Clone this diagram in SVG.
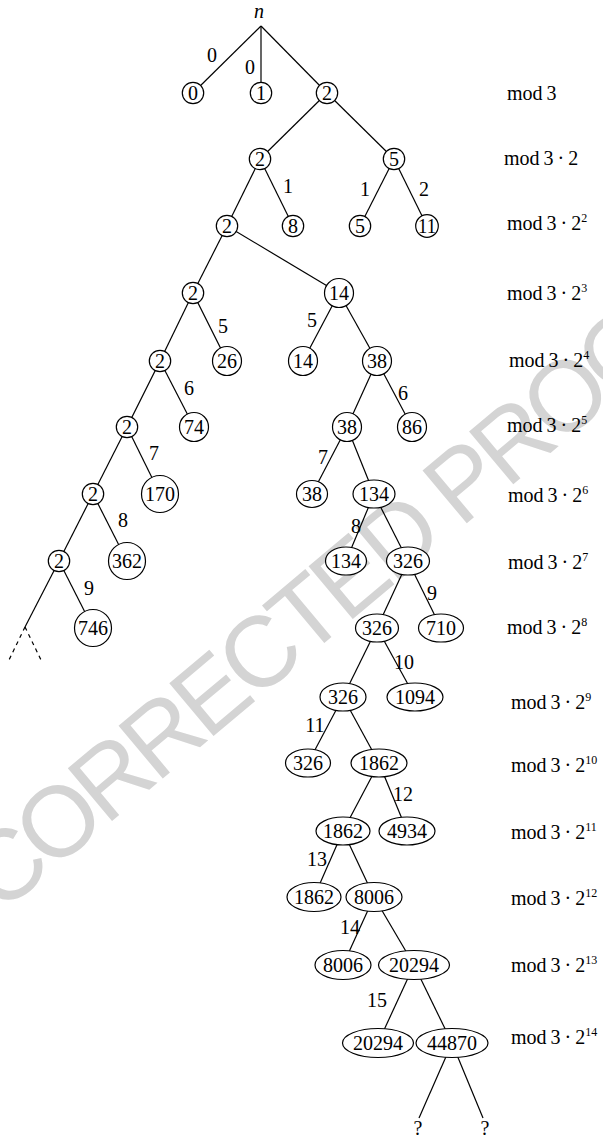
<svg xmlns="http://www.w3.org/2000/svg" width="603" height="1147" viewBox="0 0 603 1147">
<style>
.e{stroke:#000;stroke-width:1.2;fill:none}
.d{stroke-dasharray:4 4}
.nd{fill:#fff;stroke:#000;stroke-width:1.2}
.t{font-size:20px;text-anchor:middle;fill:#000}
.m{font-size:20px;fill:#000}
.s{font-size:12px}
.wm{font-size:100px;letter-spacing:-6px;fill:#d4d4d4}
</style>
<rect width="603" height="1147" fill="#fff"/>
<g id="watermark" font-family="'Liberation Sans', Arial, sans-serif"><text class="wm" transform="translate(0,915) rotate(-40)">CORRECTED PROOF</text></g>
<g id="connectors">
<line class="e" x1="261" y1="26" x2="193" y2="93"/>
<line class="e" x1="261" y1="26" x2="261" y2="93"/>
<line class="e" x1="261" y1="26" x2="327" y2="93"/>
<line class="e" x1="327" y1="93" x2="260" y2="159"/>
<line class="e" x1="327" y1="93" x2="394" y2="159"/>
<line class="e" x1="260" y1="159" x2="227" y2="226"/>
<line class="e" x1="260" y1="159" x2="293" y2="226"/>
<line class="e" x1="394" y1="159" x2="360" y2="226"/>
<line class="e" x1="394" y1="159" x2="427" y2="226"/>
<line class="e" x1="227" y1="226" x2="193" y2="293"/>
<line class="e" x1="227" y1="226" x2="339" y2="293"/>
<line class="e" x1="193" y1="293" x2="160" y2="361"/>
<line class="e" x1="193" y1="293" x2="227" y2="361"/>
<line class="e" x1="339" y1="293" x2="303" y2="361"/>
<line class="e" x1="339" y1="293" x2="377" y2="361"/>
<line class="e" x1="160" y1="361" x2="127" y2="427"/>
<line class="e" x1="160" y1="361" x2="194" y2="427"/>
<line class="e" x1="377" y1="361" x2="347" y2="427"/>
<line class="e" x1="377" y1="361" x2="412" y2="427"/>
<line class="e" x1="127" y1="427" x2="93" y2="494"/>
<line class="e" x1="127" y1="427" x2="160" y2="494"/>
<line class="e" x1="347" y1="427" x2="312" y2="494"/>
<line class="e" x1="347" y1="427" x2="374" y2="494"/>
<line class="e" x1="93" y1="494" x2="59" y2="561"/>
<line class="e" x1="93" y1="494" x2="127" y2="561"/>
<line class="e" x1="374" y1="494" x2="346" y2="561"/>
<line class="e" x1="374" y1="494" x2="408" y2="561"/>
<line class="e" x1="59" y1="561" x2="25" y2="627"/>
<line class="e" x1="59" y1="561" x2="93" y2="628"/>
<line class="e d" x1="25" y1="627" x2="8" y2="662"/>
<line class="e d" x1="25" y1="627" x2="42" y2="662"/>
<line class="e" x1="408" y1="561" x2="377" y2="628"/>
<line class="e" x1="408" y1="561" x2="441" y2="628"/>
<line class="e" x1="377" y1="628" x2="343" y2="697"/>
<line class="e" x1="377" y1="628" x2="415" y2="697"/>
<line class="e" x1="343" y1="697" x2="308" y2="763"/>
<line class="e" x1="343" y1="697" x2="379" y2="763"/>
<line class="e" x1="379" y1="763" x2="343" y2="831"/>
<line class="e" x1="379" y1="763" x2="407" y2="831"/>
<line class="e" x1="343" y1="831" x2="314" y2="897"/>
<line class="e" x1="343" y1="831" x2="374" y2="897"/>
<line class="e" x1="374" y1="897" x2="343" y2="965"/>
<line class="e" x1="374" y1="897" x2="414" y2="965"/>
<line class="e" x1="414" y1="965" x2="378" y2="1043"/>
<line class="e" x1="414" y1="965" x2="452" y2="1043"/>
<line class="e" x1="452" y1="1043" x2="419" y2="1118"/>
<line class="e" x1="452" y1="1043" x2="483" y2="1118"/>
</g>
<g id="edge-labels" font-family="'Liberation Serif', 'Times New Roman', serif">
<text class="t" x="212" y="62">0</text>
<text class="t" x="250" y="74">0</text>
<text class="t" x="288" y="193">1</text>
<text class="t" x="365" y="196">1</text>
<text class="t" x="424" y="196">2</text>
<text class="t" x="223" y="333">5</text>
<text class="t" x="312" y="327">5</text>
<text class="t" x="189" y="395">6</text>
<text class="t" x="403" y="400">6</text>
<text class="t" x="154" y="460">7</text>
<text class="t" x="323" y="464">7</text>
<text class="t" x="123" y="527">8</text>
<text class="t" x="356" y="533">8</text>
<text class="t" x="89" y="595">9</text>
<text class="t" x="432" y="600">9</text>
<text class="t" x="404" y="669">10</text>
<text class="t" x="315" y="732">11</text>
<text class="t" x="403" y="801">12</text>
<text class="t" x="317" y="866">13</text>
<text class="t" x="350" y="934">14</text>
<text class="t" x="377" y="1007">15</text>
<text class="t" x="418" y="1135">?</text>
<text class="t" x="485" y="1135">?</text>
</g>
<g id="nodes" font-family="'Liberation Serif', 'Times New Roman', serif">
<g id="root"><text class="t" x="259" y="18" font-style="italic">n</text></g>
<g id="l0a"><circle class="nd" cx="193" cy="93" r="10.7"/><text class="t" x="193" y="100">0</text></g>
<g id="l0b"><circle class="nd" cx="261" cy="93" r="10.7"/><text class="t" x="261" y="100">1</text></g>
<g id="l0c"><circle class="nd" cx="327" cy="93" r="10.7"/><text class="t" x="327" y="100">2</text></g>
<g id="l1a"><circle class="nd" cx="260" cy="159" r="10.7"/><text class="t" x="260" y="166">2</text></g>
<g id="l1b"><circle class="nd" cx="394" cy="159" r="10.7"/><text class="t" x="394" y="166">5</text></g>
<g id="l2a"><circle class="nd" cx="227" cy="226" r="10.7"/><text class="t" x="227" y="233">2</text></g>
<g id="l2b"><circle class="nd" cx="293" cy="226" r="10.7"/><text class="t" x="293" y="233">8</text></g>
<g id="l2c"><circle class="nd" cx="360" cy="226" r="10.7"/><text class="t" x="360" y="233">5</text></g>
<g id="l2d"><circle class="nd" cx="427" cy="226" r="11.3"/><text class="t" x="427" y="233" textLength="18" lengthAdjust="spacingAndGlyphs">11</text></g>
<g id="l3a"><circle class="nd" cx="193" cy="293" r="10.7"/><text class="t" x="193" y="300">2</text></g>
<g id="l3b"><circle class="nd" cx="339" cy="293" r="14.5"/><text class="t" x="339" y="300">14</text></g>
<g id="l4a"><circle class="nd" cx="160" cy="361" r="10.7"/><text class="t" x="160" y="368">2</text></g>
<g id="l4b"><circle class="nd" cx="227" cy="361" r="14.5"/><text class="t" x="227" y="368">26</text></g>
<g id="l4c"><circle class="nd" cx="303" cy="361" r="14.5"/><text class="t" x="303" y="368">14</text></g>
<g id="l4d"><circle class="nd" cx="377" cy="361" r="14.5"/><text class="t" x="377" y="368">38</text></g>
<g id="l5a"><circle class="nd" cx="127" cy="427" r="10.7"/><text class="t" x="127" y="434">2</text></g>
<g id="l5b"><circle class="nd" cx="194" cy="427" r="14.5"/><text class="t" x="194" y="434">74</text></g>
<g id="l5c"><circle class="nd" cx="347" cy="427" r="14.5"/><text class="t" x="347" y="434">38</text></g>
<g id="l5d"><circle class="nd" cx="412" cy="427" r="14.5"/><text class="t" x="412" y="434">86</text></g>
<g id="l6a"><circle class="nd" cx="93" cy="494" r="10.7"/><text class="t" x="93" y="501">2</text></g>
<g id="l6b"><circle class="nd" cx="160" cy="494" r="18.5"/><text class="t" x="160" y="501">170</text></g>
<g id="l6c"><ellipse class="nd" cx="312" cy="494" rx="15.5" ry="13.5"/><text class="t" x="312" y="501">38</text></g>
<g id="l6d"><ellipse class="nd" cx="374" cy="494" rx="21" ry="14"/><text class="t" x="374" y="501">134</text></g>
<g id="l7a"><circle class="nd" cx="59" cy="561" r="10.7"/><text class="t" x="59" y="568">2</text></g>
<g id="l7b"><circle class="nd" cx="127" cy="561" r="18.5"/><text class="t" x="127" y="568">362</text></g>
<g id="l7c"><ellipse class="nd" cx="346" cy="561" rx="20.5" ry="14"/><text class="t" x="346" y="568">134</text></g>
<g id="l7d"><ellipse class="nd" cx="408" cy="561" rx="21.5" ry="14"/><text class="t" x="408" y="568">326</text></g>
<g id="l8a"><circle class="nd" cx="93" cy="628" r="18.5"/><text class="t" x="93" y="635">746</text></g>
<g id="l8b"><ellipse class="nd" cx="377" cy="628" rx="21.5" ry="14"/><text class="t" x="377" y="635">326</text></g>
<g id="l8c"><ellipse class="nd" cx="441" cy="628" rx="22.5" ry="14"/><text class="t" x="441" y="635">710</text></g>
<g id="l9a"><ellipse class="nd" cx="343" cy="697" rx="23" ry="14"/><text class="t" x="343" y="704">326</text></g>
<g id="l9b"><ellipse class="nd" cx="415" cy="697" rx="28" ry="14"/><text class="t" x="415" y="704">1094</text></g>
<g id="l10a"><ellipse class="nd" cx="308" cy="763" rx="22.5" ry="14"/><text class="t" x="308" y="770">326</text></g>
<g id="l10b"><ellipse class="nd" cx="379" cy="763" rx="28" ry="14"/><text class="t" x="379" y="770">1862</text></g>
<g id="l11a"><ellipse class="nd" cx="343" cy="831" rx="27" ry="14"/><text class="t" x="343" y="838">1862</text></g>
<g id="l11b"><ellipse class="nd" cx="407" cy="831" rx="28" ry="14"/><text class="t" x="407" y="838">4934</text></g>
<g id="l12a"><ellipse class="nd" cx="314" cy="897" rx="27" ry="14.5"/><text class="t" x="314" y="904">1862</text></g>
<g id="l12b"><ellipse class="nd" cx="374" cy="897" rx="28" ry="14.5"/><text class="t" x="374" y="904">8006</text></g>
<g id="l13a"><ellipse class="nd" cx="343" cy="965" rx="28" ry="14.5"/><text class="t" x="343" y="972">8006</text></g>
<g id="l13b"><ellipse class="nd" cx="414" cy="965" rx="35.5" ry="14.5"/><text class="t" x="414" y="972">20294</text></g>
<g id="l14a"><ellipse class="nd" cx="378" cy="1043" rx="35.5" ry="14.5"/><text class="t" x="378" y="1050">20294</text></g>
<g id="l14b"><ellipse class="nd" cx="452" cy="1043" rx="36" ry="14.5"/><text class="t" x="452" y="1050">44870</text></g>
</g>
<g id="levels" font-family="'Liberation Serif', 'Times New Roman', serif">
<text class="m" x="507" y="100">mod&#8201;3</text>
<text class="m" x="504" y="165">mod&#8201;3&#8201;·&#8201;2</text>
<text class="m" x="507" y="230">mod&#8201;3&#8201;·&#8201;2<tspan class="s" dy="-8">2</tspan></text>
<text class="m" x="507" y="300">mod&#8201;3&#8201;·&#8201;2<tspan class="s" dy="-8">3</tspan></text>
<text class="m" x="509" y="367">mod&#8201;3&#8201;·&#8201;2<tspan class="s" dy="-8">4</tspan></text>
<text class="m" x="507" y="432">mod&#8201;3&#8201;·&#8201;2<tspan class="s" dy="-8">5</tspan></text>
<text class="m" x="508" y="502">mod&#8201;3&#8201;·&#8201;2<tspan class="s" dy="-8">6</tspan></text>
<text class="m" x="508" y="569">mod&#8201;3&#8201;·&#8201;2<tspan class="s" dy="-8">7</tspan></text>
<text class="m" x="507" y="634">mod&#8201;3&#8201;·&#8201;2<tspan class="s" dy="-8">8</tspan></text>
<text class="m" x="511" y="709">mod&#8201;3&#8201;·&#8201;2<tspan class="s" dy="-8">9</tspan></text>
<text class="m" x="511" y="772">mod&#8201;3&#8201;·&#8201;2<tspan class="s" dy="-8">10</tspan></text>
<text class="m" x="511" y="839">mod&#8201;3&#8201;·&#8201;2<tspan class="s" dy="-8">11</tspan></text>
<text class="m" x="511" y="905">mod&#8201;3&#8201;·&#8201;2<tspan class="s" dy="-8">12</tspan></text>
<text class="m" x="511" y="972">mod&#8201;3&#8201;·&#8201;2<tspan class="s" dy="-8">13</tspan></text>
<text class="m" x="511" y="1044">mod&#8201;3&#8201;·&#8201;2<tspan class="s" dy="-8">14</tspan></text>
</g>
</svg>
